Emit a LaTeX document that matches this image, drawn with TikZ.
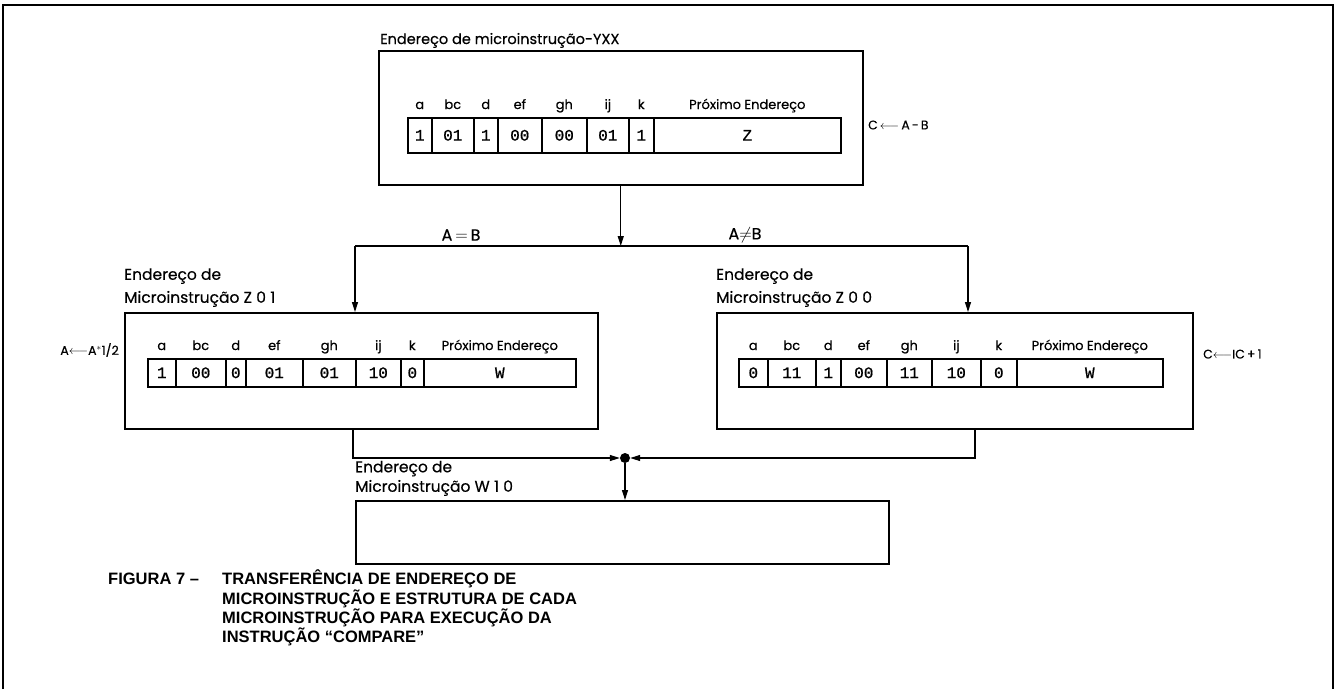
\documentclass[tikz,border=0pt]{standalone}
\usepackage{fontspec}
\setmainfont{Liberation Sans}
\newfontfamily\labelfont{Poppins}[FakeBold=0.4]
\newfontfamily\cellfont{Liberation Mono}[FakeBold=0.8]
\usetikzlibrary{arrows.meta, positioning, calc}
\tikzset{
  frame/.style={line width=1.3pt},
  ubox/.style={draw, rectangle, line width=1.5pt, inner sep=0pt, anchor=north west},
  field/.style={draw, rectangle, line width=1.6pt, inner sep=0pt, anchor=north west,
    font=\cellfont\fontsize{16}{16}\selectfont},
  fieldname/.style={inner sep=0pt, anchor=base, font=\labelfont\fontsize{13}{13}\selectfont},
  title/.style={inner sep=0pt, anchor=south west, align=left, font=\labelfont\fontsize{15.5}{23}\selectfont},
  cond/.style={inner sep=0pt, font=\labelfont\fontsize{16}{16}\selectfont},
  note/.style={inner sep=0pt, font=\labelfont\fontsize{12.5}{12.5}\selectfont},
  caption/.style={inner sep=0pt, anchor=north west, align=left, font=\bfseries\fontsize{16.5}{17}\selectfont},
  wire/.style={line width=1.2pt},
  flow/.style={line width=1.2pt, -{Triangle[length=10pt,width=6pt]}},
  joint/.style={circle, fill, inner sep=0pt, minimum size=10pt},
}
% one row of microinstruction fields: prefix, top, height, cells
\newcommand\fieldrow[4]{%
  \foreach \xa/\xb/\lab/\val [count=\i] in {#4} {
    \node[field, minimum width={\xb-\xa}, minimum height=#3] (#1-\i) at (\xa,#2) {\val};
    \node[fieldname] (#1-n\i) at ($(#1-\i.north)+(0,-8)$) {\lab};
  }}

\begin{document}
\begin{tikzpicture}[x=1pt,y=-1pt]
  \useasboundingbox (0,0) rectangle (1336,689);
  \fill[white] (0,0) rectangle (1336,689);
  \draw[frame] (3,689) -- (3,5) -- (1333,5) -- (1333,689);

  % microinstruction boxes
  \node[ubox, minimum width=484, minimum height=134] (yxx) at (378,50) {};
  \node[ubox, minimum width=473, minimum height=116] (z01) at (124,312) {};
  \node[ubox, minimum width=476, minimum height=116] (z00) at (716,312) {};
  \node[ubox, minimum width=533, minimum height=63] (w10) at (355,500) {};

  \node[title, font=\labelfont\fontsize{14.5}{23}\selectfont] (yxx-t) at (380,48) {Endereço de microinstrução-YXX};
  \node[title] (z01-t) at (124,307) {Endereço de\\Microinstrução Z\;0\;1};
  \node[title] (z00-t) at (716,307) {Endereço de\\Microinstrução Z\;0\;0};
  \node[title, font=\labelfont\fontsize{15.5}{19.5}\selectfont] (w10-t) at (355,496) {Endereço de\\Microinstrução W\;1\;0};

  % fields
  \fieldrow{yxx}{117}{35}{407/431/a/1, 431/473/bc/01, 473/497/d/1, 497/541/ef/00,
    541/586/gh/00, 586/628/ij/01, 628/653/k/1, 653/840/{Próximo Endereço}/Z}
  \fieldrow{z01}{358}{28}{147/175/a/1, 175/225/bc/00, 225/245/d/0, 245/302/ef/01,
    302/355/gh/01, 355/400/ij/10, 400/423/k/0, 423/575/{Próximo Endereço}/W}
  \fieldrow{z00}{358}{28}{738/767/a/0, 767/815/bc/11, 815/840/d/1, 840/886/ef/00,
    886/931/gh/11, 931/980/ij/10, 980/1016/k/0, 1016/1162/{Próximo Endereço}/W}

  % operations
  \node[note, anchor=west] (op-yxx) at (868,125) {C\,$\longleftarrow$\,A\,-\,B};
  \node[note, anchor=east] (op-z01) at (119,350) {A$\longleftarrow$A$^{*}$1/2};
  \node[note, anchor=west] (op-z00) at (1203,354) {C$\longleftarrow$IC\,+\,1};

  % branch on the comparison
  \coordinate (forkL) at (355,246);
  \coordinate (forkR) at (968,246);
  \draw[flow] (yxx.south) -- (yxx.south |- forkL);
  \draw[wire] (forkL) -- (forkR);
  \draw[flow] (forkL) -- (forkL |- z01.north);
  \draw[flow] (forkR) -- (forkR |- z00.north);
  \node[cond] (eq) at (461,235) {A$\,=\,$B};
  \node[cond] (ne) at (745,235) {A$\neq$B};

  % both paths join at W10
  \node[joint] (join) at (625,458) {};
  \coordinate (joinL) at (353,458);
  \coordinate (joinR) at (975,458);
  \draw[flow] (joinL |- z01.south) -- (joinL) -- (join.west);
  \draw[flow] (joinR |- z00.south) -- (joinR) -- (join.east);
  \draw[flow] (join) -- (join |- w10.north);

  % caption
  \node[caption] (fig) at (108,573) {FIGURA 7 --};
  \node[caption] (cap) at (222,570) {TRANSFERÊNCIA DE ENDEREÇO DE\\MICROINSTRUÇÃO E ESTRUTURA DE CADA\\MICROINSTRUÇÃO PARA EXECUÇÃO DA\\INSTRUÇÃO ``COMPARE''};
\end{tikzpicture}
\end{document}
